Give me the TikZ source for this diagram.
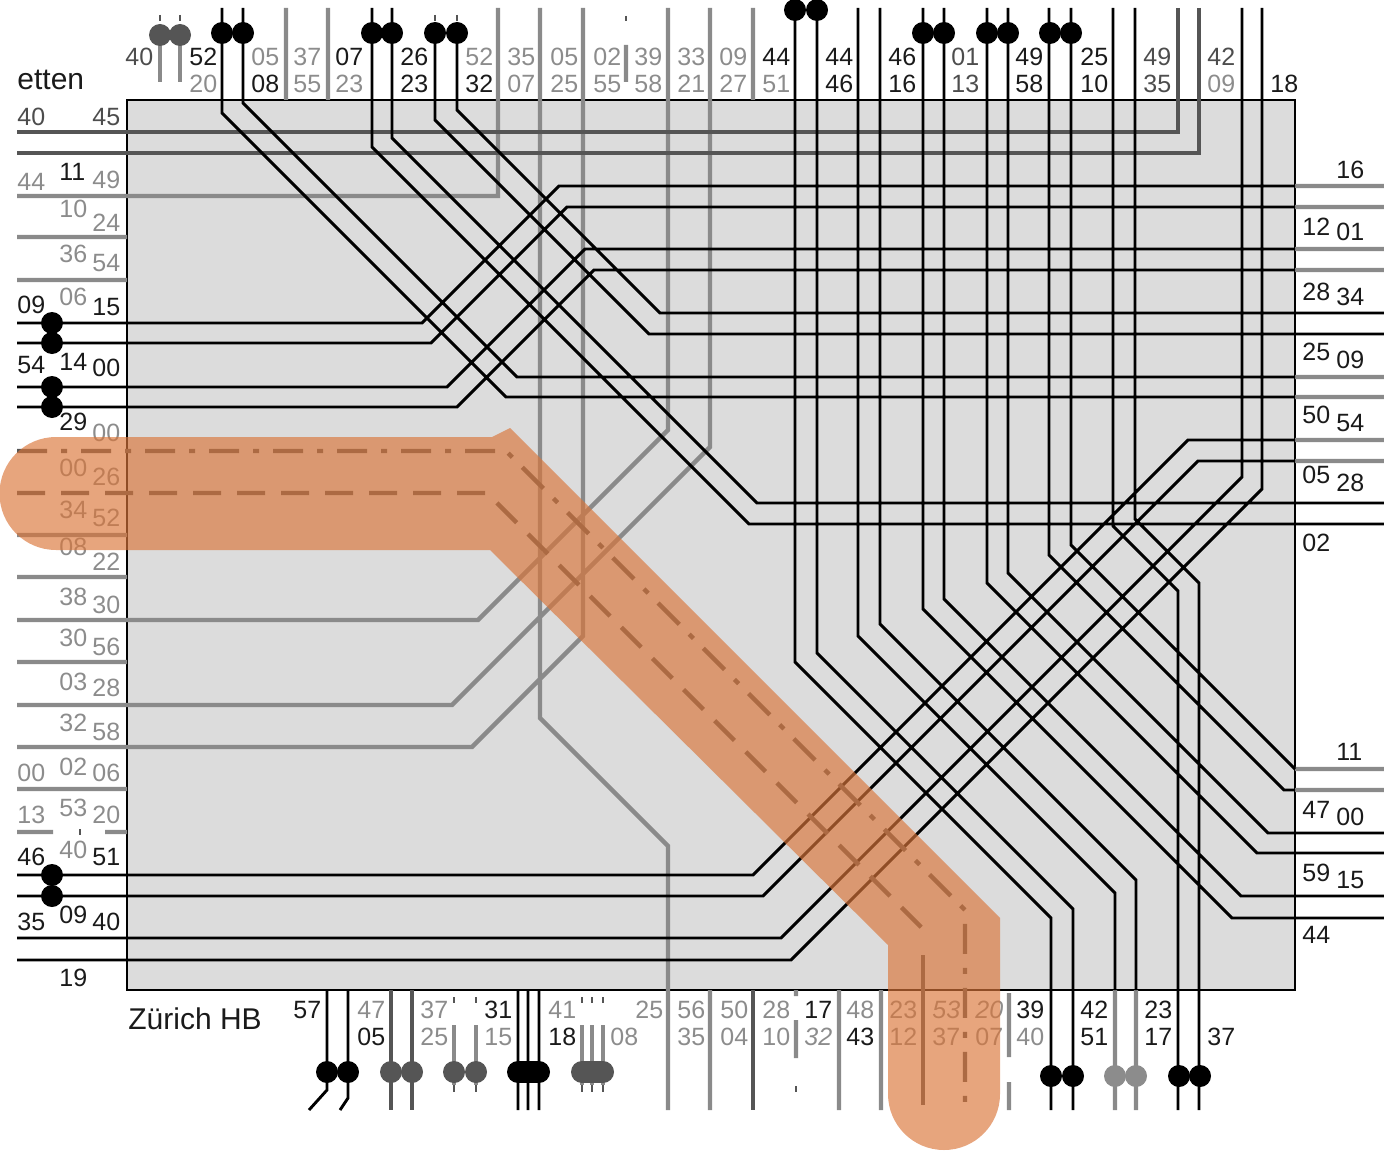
\documentclass[tikz,border=0pt]{standalone}
\usepackage{fontspec}
\setmainfont{Liberation Sans}
\usetikzlibrary{positioning}
\definecolor{nb}{HTML}{1A1A1A}
\definecolor{nd}{HTML}{4D4D4D}
\definecolor{ng}{HTML}{8C8C8C}
\definecolor{lineg}{HTML}{8A8A8A}
\definecolor{darkg}{HTML}{555555}
\definecolor{boxg}{HTML}{DCDCDC}
\definecolor{bandc}{RGB}{218,118,58}

\begin{document}
\begin{tikzpicture}[x=0.5pt, y=-0.5pt]
    \tikzstyle{blk} = [draw=black, line width=1.45pt]
    \tikzstyle{gry} = [draw=lineg, line width=2.2pt]
    \tikzstyle{dgry} = [draw=darkg, line width=1.6pt]
    \tikzstyle{lab} = [font=\fontsize{12.5}{13}\selectfont, inner sep=0pt, anchor=west]
    \tikzstyle{stn} = [font=\fontsize{15}{16}\selectfont, inner sep=0pt, anchor=west, text=nb]
    \tikzstyle{stop} = [circle, inner sep=0pt, minimum size=11pt]
    \tikzstyle{band} = [fill=bandc, fill opacity=0.66]

    \useasboundingbox (0,0) rectangle (1384,1150);

    \draw[fill=boxg, draw=black, line width=0.8pt] (127,100) rectangle (1295,990);

    \draw[gry]
        (286,8) -- (286,100)
        (328,8) -- (328,100)
        (498,8) -- (498,196) -- (17,196)
        (540,8) -- (540,718) -- (668,846) -- (668,1110)
        (583,8) -- (583,636) -- (472,747) -- (17,747)
        (668,8) -- (668,430) -- (478,620) -- (17,620)
        (710,8) -- (710,447) -- (452,705) -- (17,705)
        (753,8) -- (753,100)
        (626,45) -- (626,82)
        (17,237) -- (127,237)
        (17,280) -- (127,280)
        (17,535) -- (127,535)
        (17,577) -- (127,577)
        (17,662) -- (127,662)
        (17,789) -- (127,789)
        (17,832) -- (53,832) (105,832) -- (127,832)
        (710,990) -- (710,1110)
        (839,990) -- (839,1110)
        (881,990) -- (881,1110)
        (796,990) -- (796,996) (796,1020) -- (796,1058)
        (1009,993) -- (1009,1057) (1009,1082) -- (1009,1110)
        (1115,990) -- (1115,1110)
        (1136,990) -- (1136,1110)
        (1295,186) -- (1384,186)  (1295,207) -- (1384,207)
        (1295,249) -- (1384,249)  (1295,270) -- (1384,270)
        (1295,377) -- (1384,377)  (1295,397) -- (1384,397)
        (1295,440) -- (1384,440)  (1295,461) -- (1384,461)
        (1295,769) -- (1384,769)  (1295,790) -- (1384,790)
    ;
    \draw[gry, line width=1.6pt]
        (160,35) -- (160,82)  (180,35) -- (180,82)
        (454,1025) -- (454,1085)  (476,1025) -- (476,1085)
        (582,1025) -- (582,1085)  (592,1025) -- (592,1085)  (603,1025) -- (603,1085)
    ;
    \draw[dgry]
        (1178,8) -- (1178,132) -- (17,132)
        (1199,8) -- (1199,153) -- (17,153)
        (391,990) -- (391,1110)  (412,990) -- (412,1110)
        (753,990) -- (753,1110)
    ;

    \draw[blk]
        (222,8) -- (222,113) -- (506,397) -- (1295,397)
        (243,8) -- (243,103) -- (517,377) -- (1295,377)
        (372,8) -- (372,147) -- (749,524) -- (1384,524)
        (392,8) -- (392,138) -- (757,503) -- (1384,503)
        (435,33) -- (435,120) -- (649,334) -- (1384,334)
        (457,33) -- (457,110) -- (660,313) -- (1384,313)
        (17,323) -- (422,323) -- (559,186) -- (1295,186)
        (17,343) -- (431,343) -- (567,207) -- (1295,207)
        (17,387) -- (447,387) -- (585,249) -- (1295,249)
        (17,407) -- (457,407) -- (594,270) -- (1295,270)
        (17,875) -- (753,875) -- (1188,440) -- (1295,440)
        (17,896) -- (763,896) -- (1198,461) -- (1295,461)
        (17,938) -- (781,938) -- (1242,477) -- (1242,8)
        (17,960) -- (791,960) -- (1262,489) -- (1262,8)
        (795,0) -- (795,662) -- (1051,918) -- (1051,1110)
        (817,0) -- (817,653) -- (1073,909) -- (1073,1110)
        (858,8) -- (858,636) -- (1115,893) -- (1115,990)
        (880,8) -- (880,624) -- (1136,880) -- (1136,990)
        (923,8) -- (923,609) -- (1232,918) -- (1384,918)
        (944,8) -- (944,599) -- (1241,896) -- (1384,896)
        (987,8) -- (987,583) -- (1257,853) -- (1384,853)
        (1008,8) -- (1008,573) -- (1268,833) -- (1384,833)
        (1049,8) -- (1049,555) -- (1284,790) -- (1295,790)
        (1071,8) -- (1071,545) -- (1295,769)
        (1113,8) -- (1113,526) -- (1178,591) -- (1178,1110)
        (1135,8) -- (1135,519) -- (1199,583) -- (1199,1110)
        (327,990) -- (327,1090) -- (309,1110)
        (348,990) -- (348,1098) -- (340,1110)
        (518,990) -- (518,1110)  (528,990) -- (528,1110)  (539,990) -- (539,1110)
    ;

    % highlighted path
    \draw[gry, draw=darkg, dash pattern=on 15pt off 7pt on 3pt off 7pt] (17,451) -- (506,451) -- (965,910) -- (965,1110);
    \draw[gry, draw=darkg, dash pattern=on 14pt off 8pt] (17,493) -- (487,493) -- (923,929);
    \draw[gry, draw=darkg] (923,955) -- (923,1105);

    \foreach \x/\y [count=\i] in {222/33, 243/33, 372/33, 392/33, 435/33, 457/33, 795/10, 817/10,
        923/33, 944/33, 987/33, 1008/33, 1050/33, 1071/33, 52/323, 52/343, 52/387, 52/407,
        52/875, 52/896, 327/1072, 348/1072, 1051/1076, 1073/1076, 1179/1076, 1200/1076}
        \node[stop, fill=black] (s\i) at (\x,\y) {};
    \foreach \x/\y [count=\i] in {160/35, 180/35, 391/1072, 412/1072, 454/1072, 476/1072}
        \node[stop, fill=darkg] (d\i) at (\x,\y) {};
    \foreach \x/\y [count=\i] in {1115/1076, 1136/1076}
        \node[stop, fill=ng] (g\i) at (\x,\y) {};
    \draw[line width=11pt, line cap=round, draw=black] (518,1072) -- (539,1072);
    \draw[line width=11pt, line cap=round, draw=darkg] (582,1072) -- (603,1072);
    \draw[line width=1.2pt, draw=darkg]
        (160,15) -- (160,21)  (180,15) -- (180,21)
        (435,15) -- (435,21)  (457,15) -- (457,21)
        (626,16) -- (626,21)
        (80,829) -- (80,835)
        (454,997) -- (454,1003)  (476,997) -- (476,1003)
        (454,1085) -- (454,1092)  (476,1085) -- (476,1092)
        (582,997) -- (582,1003)  (592,997) -- (592,1003)  (603,997) -- (603,1003)
        (582,1085) -- (582,1092)  (592,1085) -- (592,1092)  (603,1085) -- (603,1092)
        (796,1086) -- (796,1092)
    ;

    \node[stn] (etten) at (17,80) {etten};
    \node[stn] (hb) at (128,1019) {Zürich HB};

    \foreach \x/\a/\ca/\b/\cb [count=\i] in {125/40/nd/{}/nb, 189/52/nb/20/ng, 251/05/ng/08/nb,
        293/37/ng/55/ng, 335/07/nb/23/ng, 400/26/nb/23/nb, 465/52/ng/32/nb, 507/35/ng/07/ng,
        550/05/ng/25/ng, 593/02/ng/55/ng, 634/39/ng/58/ng, 677/33/ng/21/ng, 719/09/ng/27/ng,
        762/44/nb/51/ng, 825/44/nb/46/nb, 888/46/nb/16/nb, 951/01/nd/13/nd, 1015/49/nb/58/nb,
        1080/25/nb/10/nb, 1143/49/nd/35/nd, 1207/42/nd/09/ng, 1270/{}/nb/18/nb} {
        \node[lab, text=\ca] (top\i) at (\x,57) {\a};
        \node[lab, text=\cb] (topb\i) at (\x,84) {\b};
    }
    \foreach \x/\a/\ca/\b/\cb [count=\i] in {293/57/nb/{}/nb, 357/47/ng/05/nb, 420/37/ng/25/ng,
        484/31/nb/15/ng, 548/41/ng/18/nb, 635/25/ng/{}/ng, 677/56/ng/35/ng, 720/50/ng/04/ng,
        762/28/ng/10/ng, 804/17/nb/{\itshape 32}/ng, 846/48/ng/43/nb, 889/23/ng/12/ng,
        932/{\itshape 53}/ng/37/ng, 975/{\itshape 20}/ng/07/ng, 1016/39/nb/40/ng,
        1080/42/nb/51/nb, 1144/23/nb/17/nb, 1207/{}/nb/37/nb} {
        \node[lab, text=\ca] (bot\i) at (\x,1010) {\a};
        \node[lab, text=\cb] (botb\i) at (\x,1037) {\b};
    }
    \node[lab, text=ng] (bot08) at (610,1037) {08};

    \foreach \y/\t/\c [count=\i] in {117/40/nd, 182/44/ng, 305/09/nb, 365/54/nb, 773/00/ng,
        815/13/ng, 857/46/nb, 922/35/nb}
        \node[lab, text=\c] (la\i) at (17,\y) {\t};
    \foreach \y/\t/\c [count=\i] in {172/11/nb, 209/10/ng, 254/36/ng, 297/06/ng, 362/14/nb,
        422/29/nb, 468/00/ng, 510/34/ng, 547/08/ng, 597/38/ng, 638/30/ng, 682/03/ng, 723/32/ng,
        767/02/ng, 808/53/ng, 850/40/ng, 915/09/nb, 978/19/nb}
        \node[lab, text=\c] (lb\i) at (59,\y) {\t};
    \foreach \y/\t/\c [count=\i] in {117/45/nd, 180/49/ng, 223/24/ng, 263/54/ng, 307/15/nb,
        368/00/nb, 433/00/ng, 477/26/ng, 518/52/ng, 562/22/ng, 605/30/ng, 647/56/ng, 688/28/ng,
        732/58/ng, 773/06/ng, 815/20/ng, 857/51/nb, 922/40/nb}
        \node[lab, text=\c] (lc\i) at (92,\y) {\t};

    \foreach \y/\t [count=\i] in {227/12, 292/28, 352/25, 415/50, 475/05, 543/02, 810/47, 873/59, 935/44}
        \node[lab, text=nb] (ra\i) at (1302,\y) {\t};
    \foreach \y/\t [count=\i] in {170/16, 232/01, 297/34, 360/09, 423/54, 483/28, 752/11, 817/00, 880/15}
        \node[lab, text=nb] (rb\i) at (1336,\y) {\t};

    % orange route band
    \fill[band] (490,550) -- (56,550) arc[start angle=270, end angle=90, radius=28.25pt]
        -- (492,437) -- (510,428) -- (1000,918) -- (1000,1094)
        arc[start angle=0, end angle=-180, radius=28pt] -- (888,945) -- cycle;
\end{tikzpicture}
\end{document}
